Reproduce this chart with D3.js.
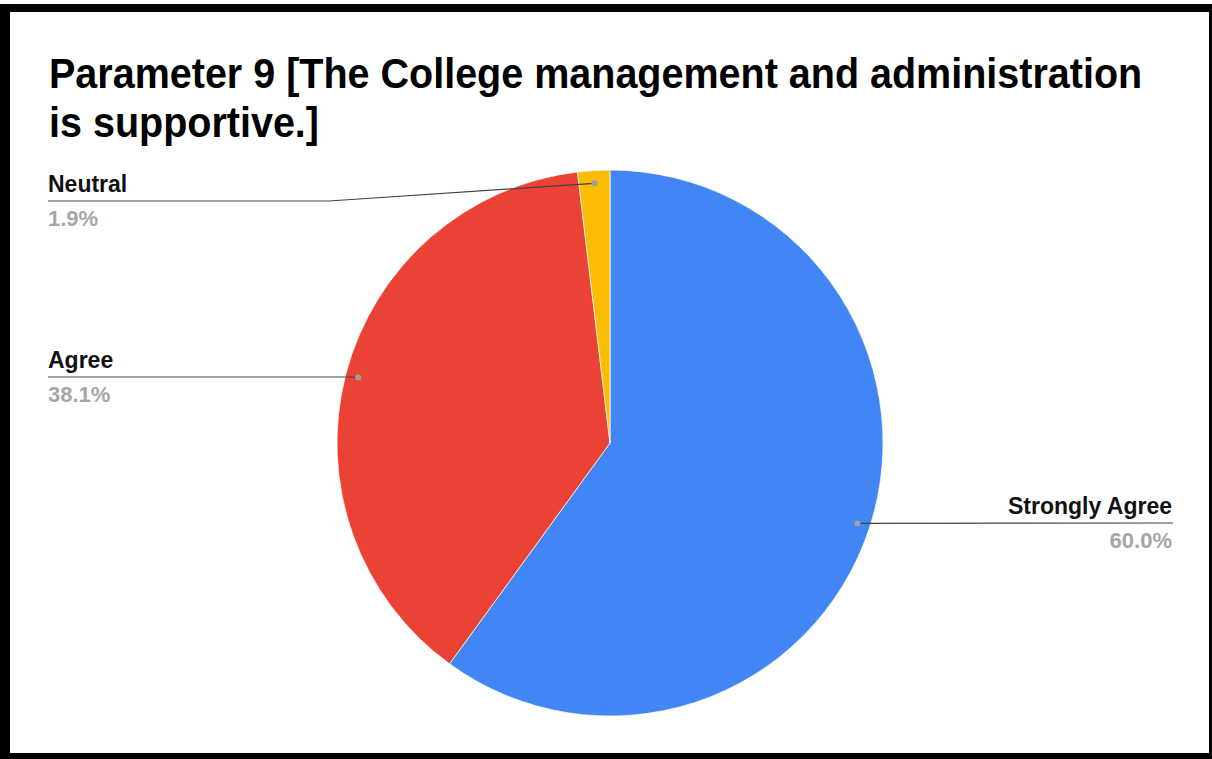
<!DOCTYPE html>
<html>
<head>
<meta charset="utf-8">
<script src="https://cdn.jsdelivr.net/npm/d3@7"></script>
<style>
  html, body { margin: 0; padding: 0; background: #fff; }
  svg { display: block; }
  text { font-family: "Liberation Sans", Arial, sans-serif; font-weight: bold; }
</style>
</head>
<body>
<script>
'use strict';

// chart data
const categories = ["Strongly Agree", "Agree", "Neutral"];
const percents = [60.0, 38.1, 1.9];
const colors = ["#4285f4", "#ea4335", "#fbbc04"];
const titleLines = ["Parameter 9 [The College management and administration", "is supportive.]"];

(function() {
  const W = 1212, H = 759;
  const cx = 610, cy = 443, radius = 273;

  let svg = d3.select('body')
    .append('svg')
    .attr('width', W)
    .attr('height', H);

  // black frame around the picture
  svg.append('rect')
    .attr('x', 0).attr('y', 4)
    .attr('width', W).attr('height', H - 4)
    .attr('fill', '#000');
  svg.append('rect')
    .attr('x', 10).attr('y', 12)
    .attr('width', 1199).attr('height', 741)
    .attr('fill', '#fff');

  // title, slightly narrow like the original
  let title = svg.append('g')
    .attr('transform', 'translate(49,0) scale(0.93,1)');
  title.selectAll('text')
    .data(titleLines)
    .enter()
    .append('text')
      .attr('x', 0)
      .attr('y', (d, i) => 88 + i * 49)
      .style('font-size', '42.5px')
      .attr('fill', '#000')
      .text((d) => d);

  let rows = categories.map((c, i) => ({ name: c, value: percents[i], color: colors[i] }));

  let pie = d3.pie()
    .sort(null)
    .value((d) => d.value);
  let arcs = pie(rows);

  let arc = d3.arc()
    .innerRadius(0)
    .outerRadius(radius);

  let g = svg.append('g')
    .attr('transform', 'translate(' + cx + ',' + cy + ')');

  g.selectAll('path')
    .data(arcs)
    .enter()
    .append('path')
      .attr('d', arc)
      .attr('fill', (d) => d.data.color)
      .attr('stroke', '#fff')
      .attr('stroke-width', 0.7);

  // anchor point for each label, a bit inside the rim
  let anchor = (d) => {
    let a = (d.startAngle + d.endAngle) / 2;
    return [cx + Math.sin(a) * radius * 0.953, cy - Math.cos(a) * radius * 0.953];
  };

  // label layout: side and line height
  let labelPos = {
    "Strongly Agree": { side: 'right', y: 523 },
    "Agree": { side: 'left', y: 377 },
    "Neutral": { side: 'left', y: 201 }
  };

  arcs.forEach((d) => {
    let p = anchor(d);
    let lp = labelPos[d.data.name];
    let pts;
    if (lp.side === 'left') {
      let bend = Math.min(p[0] - 2, p[0] - Math.abs(p[1] - lp.y) * 15);
      pts = [[48, lp.y], [Math.max(48, bend), lp.y], p];
    } else {
      pts = [p, [1173, lp.y]];
    }
    svg.append('path')
      .attr('d', d3.line()(pts))
      .attr('fill', 'none')
      .attr('stroke', '#444')
      .attr('stroke-width', 1.2);

    svg.append('circle')
      .attr('cx', p[0])
      .attr('cy', p[1])
      .attr('r', 3)
      .attr('fill', '#9e9e9e');

    let tx = lp.side === 'left' ? 48 : 1172;
    let anchorStr = lp.side === 'left' ? 'start' : 'end';

    svg.append('text')
      .attr('x', tx)
      .attr('y', lp.y - 9)
      .attr('text-anchor', anchorStr)
      .style('font-size', '23px')
      .attr('fill', '#111')
      .text(d.data.name);

    svg.append('text')
      .attr('x', tx)
      .attr('y', lp.y + 25)
      .attr('text-anchor', anchorStr)
      .style('font-size', '22px')
      .attr('fill', '#a6a6a6')
      .text(d3.format('.1f')(d.data.value) + '%');
  });
})();
</script>
</body>
</html>
